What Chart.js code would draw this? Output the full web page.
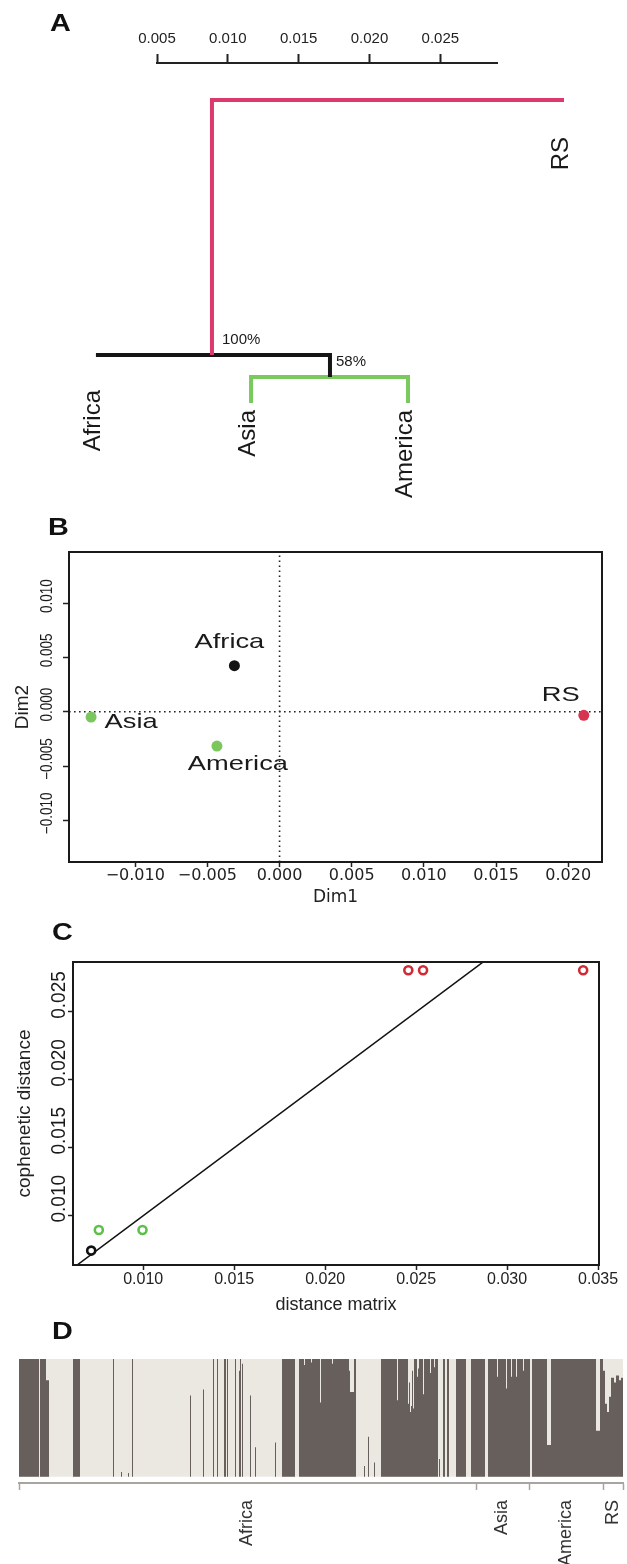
<!DOCTYPE html>
<html lang="en">
<head>
<meta charset="UTF-8">
<title>Tree, MDS, cophenetic and structure panels</title>
<script src="https://cdn.jsdelivr.net/npm/chart.js"></script>
<style>
  body { margin: 0; background: #fff; }
  .fig { position: relative; width: 627px; height: 1564px; overflow: hidden; }
  .fig canvas { position: absolute; left: 0; }
  .tag { position: absolute; font: bold 24px "Liberation Sans", Arial, sans-serif; line-height: 24px;
         transform: scaleX(1.2); transform-origin: left top; color: #111; }
</style>
</head>
<body>
<div class="fig">
  <canvas id="treeChart" width="627" height="505" style="top:0"></canvas>
  <canvas id="mdsChart" width="627" height="415" style="top:505px"></canvas>
  <canvas id="copheneticChart" width="627" height="410" style="top:920px"></canvas>
  <canvas id="structureChart" width="627" height="234" style="top:1330px"></canvas>
  <div class="tag" style="left:50px;top:11px">A</div>
  <div class="tag" style="left:48px;top:515px">B</div>
  <div class="tag" style="left:52px;top:920px">C</div>
  <div class="tag" style="left:52px;top:1319px">D</div>
</div>

<script>
// ---- A: tree (x and depth in scale-bar units) ----
const scaleTicks = [0.005, 0.010, 0.015, 0.020, 0.025];
const scaleEnd = 0.029;
const leafNames = ['Africa', 'Asia', 'America', 'RS'];
const leafPos = [0.00069, 0.01164, 0.02272, 0.03373];
const leafDepth = [0.01998, 0.02139, 0.02139, 0.00212];
const nodePos = [0.00888, 0.01721];          // root stem, Asia+America join
const nodeDepth = [0, 0.01800, 0.01955];     // root, ingroup, Asia+America
const nodeSupport = ['100%', '58%'];

// ---- B: MDS ----
const bPops = ['Africa', 'Asia', 'America', 'RS'];
const bDim1 = [-0.00313, -0.01306, -0.00434, 0.02108];
const bDim2 = [0.00424, -0.00049, -0.00316, -0.00033];
const bXRange = [-0.01459, 0.02234];
const bYRange = [-0.01384, 0.01471];

// ---- C: cophenetic vs distance matrix ----
const cDistance = [0.02457, 0.02538, 0.03418, 0.00756, 0.00996, 0.00714];
const cCophenetic = [0.02807, 0.02807, 0.02807, 0.00895, 0.00895, 0.00743];
const cFit = [0, 1];   // intercept, slope
const cXRange = [0.00614, 0.03505];
const cYRange = [0.00637, 0.02868];

// ---- D: ancestry proportions (run start index, dark share) ----
const dTotal = 604;
const dGroups = ['Africa', 'Asia', 'America', 'RS'];
const dGroupEdges = [0, 457, 510, 584, 604];
const dStart = [0, 20, 21, 27, 30, 54, 61, 94, 95, 102, 103, 109, 110, 113, 114, 171, 172, 184, 185, 194,
  195, 198, 199, 205, 207, 208, 209, 216, 217, 220, 221, 222, 223, 224, 231, 232, 236, 237, 256, 257,
  263, 276, 280, 285, 286, 292, 293, 301, 302, 313, 314, 330, 331, 335, 337, 345, 346, 349, 350, 355,
  356, 362, 378, 379, 389, 390, 391, 392, 393, 394, 395, 398, 399, 400, 404, 405, 411, 412, 415, 416,
  419, 420, 421, 424, 426, 428, 430, 437, 447, 452, 466, 469, 478, 479, 487, 488, 492, 493, 497, 498,
  504, 505, 511, 513, 528, 532, 577, 581, 584, 586, 588, 590, 592, 595, 597, 600, 602];
const dDark = [1, 0, 1, 0.82, 0, 1, 0, 1, 0, 0.04, 0, 0.03, 0, 1, 0, 0.69, 0, 0.74, 0, 1,
  0, 1, 0, 1, 0, 1, 0, 1, 0, 0.9, 1, 0, 0.96, 0, 0.69, 0, 0.25, 0, 0.29, 0,
  1, 0, 1, 0.95, 1, 0.97, 1, 0.63, 1, 0.96, 1, 0.9, 0.72, 1, 0, 0.09, 0, 0.34, 0, 0.12,
  0, 1, 0.65, 1, 0.62, 0.8, 0.55, 0.6, 0.9, 0.58, 1, 0.85, 0.92, 1, 0.7, 1, 0.88, 1, 0.93, 1,
  0, 0.15, 0, 1, 0, 1, 0, 1, 0, 1, 0, 1, 0.85, 1, 0.75, 1, 0.85, 1, 0.85, 1,
  0.9, 1, 0, 1, 0.27, 1, 0.39, 1, 0.9, 0.62, 0.55, 0.68, 0.84, 0.8, 0.86, 0.82, 0.84];

const SANS = '"Liberation Sans", Arial, sans-serif';
const WIDE = '"DejaVu Sans", sans-serif';
Chart.defaults.font.family = SANS;
Chart.defaults.color = '#1a1a1a';

const fmt3 = v => {
  const a = Math.abs(v) < 1e-9 ? 0 : v;
  return (a < 0 ? '\u2212' : '') + Math.abs(a).toFixed(3);
};

// free text placed at data positions
const notes = {
  id: 'notes',
  afterDatasetsDraw(chart, args, opts) {
    const ctx = chart.ctx;
    (opts.items || []).forEach(it => {
      const px = chart.scales.x.getPixelForValue(it.x) + (it.dx || 0);
      const py = chart.scales.y.getPixelForValue(it.y) + (it.dy || 0);
      ctx.save();
      ctx.translate(px, py);
      ctx.scale(it.sx || 1, 1);
      if (it.rot) ctx.rotate(it.rot);
      ctx.font = it.font;
      ctx.fillStyle = it.color || '#1a1a1a';
      ctx.textAlign = it.align || 'center';
      ctx.textBaseline = it.base || 'middle';
      ctx.fillText(it.text, 0, 0);
      ctx.restore();
    });
  }
};

// rotated y tick labels (R style) and box frame
const sideTicks = {
  id: 'sideTicks',
  afterDraw(chart, args, o) {
    const s = chart.scales.y, ctx = chart.ctx;
    s.ticks.forEach(t => {
      ctx.save();
      ctx.translate(o.x, s.getPixelForValue(t.value) + o.shift);
      ctx.scale(o.sx, 1);
      ctx.rotate(-Math.PI / 2);
      ctx.font = o.font;
      ctx.fillStyle = '#1a1a1a';
      ctx.textAlign = 'center';
      ctx.textBaseline = 'middle';
      ctx.fillText(fmt3(t.value), 0, 0);
      ctx.restore();
    });
  }
};
const frame = {
  id: 'frame',
  afterDraw(chart) {
    const a = chart.chartArea, ctx = chart.ctx;
    ctx.save();
    ctx.strokeStyle = '#1a1a1a';
    ctx.lineWidth = 2;
    ctx.strokeRect(a.left, a.top, a.right - a.left, a.bottom - a.top);
    ctx.restore();
  }
};

const base = {
  responsive: false,
  animation: false,
  devicePixelRatio: 1,
  events: [],
  plugins: { legend: { display: false }, tooltip: { enabled: false } }
};

// ---------- A ----------
const pt = (x, y) => ({ x, y });
const pinkPath = [pt(nodePos[0], nodeDepth[1]), pt(nodePos[0], nodeDepth[0]),
  pt(leafPos[3], nodeDepth[0]), pt(leafPos[3], leafDepth[3])];
const blackPath = [pt(leafPos[0], leafDepth[0]), pt(leafPos[0], nodeDepth[1]),
  pt(nodePos[1], nodeDepth[1]), pt(nodePos[1], nodeDepth[2])];
const greenPath = [pt(leafPos[1], leafDepth[1]), pt(leafPos[1], nodeDepth[2]),
  pt(leafPos[2], nodeDepth[2]), pt(leafPos[2], leafDepth[2])];
const branch = (data, color) => ({
  data, showLine: true, borderColor: color, borderWidth: 4, pointRadius: 0,
  borderCapStyle: 'butt', borderJoinStyle: 'miter', clip: false
});

const treeNotes = leafNames.map((n, i) => ({
  text: n, x: leafPos[i], y: leafDepth[i], dx: 4, dy: 7, rot: -Math.PI / 2,
  align: 'right', base: 'alphabetic', font: '24px ' + SANS
}));
treeNotes.push({ text: nodeSupport[0], x: nodePos[0], y: nodeDepth[1], dx: 10, dy: -15,
  align: 'left', font: '15px ' + SANS });
treeNotes.push({ text: nodeSupport[1], x: nodePos[1], y: nodeDepth[1], dx: 6, dy: 7,
  align: 'left', font: '15px ' + SANS });

new Chart(document.getElementById('treeChart'), {
  type: 'scatter',
  data: { datasets: [branch(pinkPath, '#dc3a6d'), branch(blackPath, '#151515'), branch(greenPath, '#79c95f')] },
  options: {
    ...base,
    layout: { padding: { left: 157, right: 130, top: 0, bottom: 0 } },
    scales: {
      x: {
        type: 'linear', position: 'top', min: scaleTicks[0], max: scaleEnd,
        afterFit: s => { s.height = 63; },
        afterBuildTicks: s => { s.ticks = scaleTicks.map(v => ({ value: v })); },
        ticks: { callback: v => v.toFixed(3), font: { size: 15 }, color: '#222', padding: 6, maxRotation: 0 },
        grid: { drawOnChartArea: false, drawTicks: true, tickLength: 9, tickWidth: 2, tickColor: '#222' },
        border: { display: true, color: '#222', width: 2 }
      },
      y: { type: 'linear', display: false, reverse: true, min: -0.00261, max: 0.02859 }
    },
    plugins: { ...base.plugins, notes: { items: treeNotes } }
  },
  plugins: [notes]
});

// ---------- B ----------
const bColors = ['#141414', '#7cc65e', '#7cc65e', '#d7344f'];
const bLabelShift = [[-5, -23], [40, 5], [21, 18], [-23, -20]];
new Chart(document.getElementById('mdsChart'), {
  type: 'scatter',
  data: {
    datasets: [
      { data: bPops.map((p, i) => ({ x: bDim1[i], y: bDim2[i] })), pointRadius: 5.5,
        pointBackgroundColor: bColors, pointBorderWidth: 0 },
      { data: [pt(0, bYRange[0]), pt(0, bYRange[1])], showLine: true, borderColor: '#222',
        borderWidth: 1.6, borderDash: [1.6, 3.4], pointRadius: 0 },
      { data: [pt(bXRange[0], 0), pt(bXRange[1], 0)], showLine: true, borderColor: '#222',
        borderWidth: 1.6, borderDash: [1.6, 3.4], pointRadius: 0 }
    ]
  },
  options: {
    ...base,
    layout: { padding: { left: 0, right: 25, top: 47, bottom: 0 } },
    scales: {
      x: {
        type: 'linear', min: bXRange[0], max: bXRange[1],
        afterFit: s => { s.height = 58; },
        ticks: { stepSize: 0.005, includeBounds: false, callback: v => fmt3(v),
                 font: { family: WIDE, size: 16 }, color: '#222', padding: -1, maxRotation: 0 },
        grid: { drawOnChartArea: false, tickLength: 5, tickWidth: 1.5, tickColor: '#222' },
        border: { display: false },
        title: { display: true, text: 'Dim1', font: { family: WIDE, size: 17 }, color: '#222',
                 padding: { top: 0, bottom: 12 } }
      },
      y: {
        type: 'linear', min: bYRange[0], max: bYRange[1],
        afterFit: s => { s.width = 69; },
        ticks: { stepSize: 0.005, includeBounds: false, display: false },
        grid: { drawOnChartArea: false, tickLength: 6, tickWidth: 1.5, tickColor: '#222' },
        border: { display: false },
        title: { display: true, text: 'Dim2', font: { size: 19 }, color: '#222',
                 padding: { top: 11, bottom: 0 } }
      }
    },
    plugins: {
      ...base.plugins,
      sideTicks: { x: 48, shift: -7, sx: 1.2, font: '13.5px ' + SANS },
      notes: {
        items: bPops.map((p, i) => ({ text: p, x: bDim1[i], y: bDim2[i], dx: bLabelShift[i][0],
          dy: bLabelShift[i][1], sx: 1.3, font: '21px ' + SANS }))
      }
    }
  },
  plugins: [notes, sideTicks, frame]
});

// ---------- C ----------
const cColors = ['#cf2b36', '#cf2b36', '#cf2b36', '#5fbf4b', '#5fbf4b', '#111'];
const fitY = x => cFit[0] + cFit[1] * x;
new Chart(document.getElementById('copheneticChart'), {
  type: 'scatter',
  data: {
    datasets: [
      { data: cDistance.map((d, i) => ({ x: d, y: cCophenetic[i] })), pointRadius: 4,
        pointBorderWidth: 2.6, pointBorderColor: cColors, pointBackgroundColor: '#fff' },
      { data: [pt(cXRange[0], fitY(cXRange[0])), pt(cXRange[1], fitY(cXRange[1]))], showLine: true,
        borderColor: '#111', borderWidth: 1.5, pointRadius: 0 }
    ]
  },
  options: {
    ...base,
    layout: { padding: { left: 0, right: 28, top: 42, bottom: 0 } },
    scales: {
      x: {
        type: 'linear', min: cXRange[0], max: cXRange[1],
        afterFit: s => { s.height = 65; },
        ticks: { stepSize: 0.005, includeBounds: false, callback: v => fmt3(v),
                 font: { size: 16 }, color: '#222', padding: 0, maxRotation: 0 },
        grid: { drawOnChartArea: false, tickLength: 5, tickWidth: 1.5, tickColor: '#222' },
        border: { display: false },
        title: { display: true, text: 'distance matrix', font: { size: 18 }, color: '#222',
                 padding: { top: 0, bottom: 14 } }
      },
      y: {
        type: 'linear', min: cYRange[0], max: cYRange[1],
        afterFit: s => { s.width = 73; },
        ticks: { stepSize: 0.005, includeBounds: false, display: false },
        grid: { drawOnChartArea: false, tickLength: 5, tickWidth: 1.5, tickColor: '#222' },
        border: { display: false },
        title: { display: true, text: 'cophenetic distance', font: { size: 19 }, color: '#222',
                 padding: { top: 13, bottom: 0 } }
      }
    },
    plugins: { ...base.plugins, sideTicks: { x: 59, shift: -17, sx: 1.1, font: '19px ' + SANS } }
  },
  plugins: [sideTicks, frame]
});

// ---------- D ----------
const dMids = dGroups.map((g, i) => (dGroupEdges[i] + dGroupEdges[i + 1]) / 2);
const dTickVals = dGroupEdges.concat(dMids).sort((a, b) => a - b);
const dPoints = dStart.map((s, i) => ({ x: s, y: dDark[i] }));
dPoints.push({ x: dTotal, y: dDark[dDark.length - 1] });
new Chart(document.getElementById('structureChart'), {
  type: 'line',
  data: {
    datasets: [
      { data: dPoints, stepped: true, fill: 'origin', backgroundColor: '#675f5b',
        borderColor: 'rgba(0,0,0,0)', borderWidth: 0, pointRadius: 0 },
      { data: [pt(0, 1), pt(dTotal, 1)], fill: 'origin', backgroundColor: '#ebe8e2',
        borderColor: 'rgba(0,0,0,0)', borderWidth: 0, pointRadius: 0 }
    ]
  },
  options: {
    ...base,
    layout: { padding: { left: 19, right: 4, top: 29, bottom: 0 } },
    scales: {
      x: {
        type: 'linear', min: 0, max: dTotal,
        afterFit: s => { s.height = 81; s.paddingLeft = 0; s.paddingRight = 0; },
        afterBuildTicks: s => { s.ticks = dTickVals.map(v => ({ value: v })); },
        ticks: {
          autoSkip: false, minRotation: 90, maxRotation: 90, padding: 10,
          font: { size: 18 }, color: '#333',
          callback: v => { const i = dMids.indexOf(v); return i >= 0 ? dGroups[i] : ''; }
        },
        grid: {
          drawOnChartArea: false, tickLength: 7, tickWidth: 1.5,
          tickColor: c => dGroupEdges.includes(c.tick && c.tick.value) ? '#a9a59e' : 'rgba(0,0,0,0)'
        },
        border: { display: true, color: '#a9a59e', width: 2 }
      },
      y: { type: 'linear', display: false, min: -0.054, max: 1 }
    }
  }
});
</script>
</body>
</html>
